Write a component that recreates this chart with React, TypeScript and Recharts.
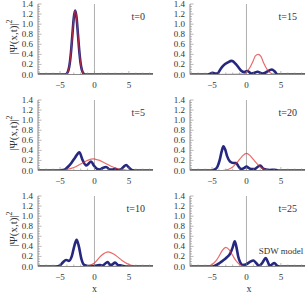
import React from "react";
import { LineChart, Line, XAxis, YAxis, ReferenceLine } from "recharts";

const SERIF = '"Liberation Serif", "DejaVu Serif", serif';
const BLUE = "#26277f";
const RED = "#e22a2a";
const FRAME = "#8a8a8a";
const TEXT = "#333";

// tick labels
const xMajor = [-5, 0, 5];
const xMinor = [-8, -7, -6, -4, -3, -2, -1, 1, 2, 3, 4, 6, 7, 8];
const yMajor = [0, 0.2, 0.4, 0.6, 0.8, 1.0, 1.2, 1.4];
const yMinor = [
  0.05, 0.1, 0.15, 0.25, 0.3, 0.35, 0.45, 0.5, 0.55, 0.65, 0.7, 0.75, 0.85,
  0.9, 0.95, 1.05, 1.1, 1.15, 1.25, 1.3, 1.35,
];
const times = ["t=0", "t=5", "t=10", "t=15", "t=20", "t=25"];

// t = 0 (both curves sit on top of each other)
const blue0X = [-8.2, -4.2, -4.0, -3.8, -3.6, -3.4, -3.2, -3.0, -2.8, -2.6, -2.4, -2.2, -2.0, -1.8, -1.6, -1.4, 8.5];
const blue0Y = [0, 0, 0.02, 0.075, 0.21, 0.46, 0.8, 1.13, 1.27, 1.13, 0.8, 0.46, 0.21, 0.075, 0.02, 0, 0];
const red0X = [-8.2, -4.2, -4.0, -3.8, -3.6, -3.4, -3.2, -3.0, -2.8, -2.6, -2.4, -2.2, -2.0, -1.8, -1.6, -1.4, 8.5];
const red0Y = [0, 0, 0.02, 0.075, 0.21, 0.46, 0.8, 1.13, 1.27, 1.13, 0.8, 0.46, 0.21, 0.075, 0.02, 0, 0];

// t = 5
const blue5X = [-8.2, -5.2, -4.6, -4.2, -3.8, -3.3, -2.8, -2.2, -1.7, -1.2, -0.9, -0.5, -0.1, 0.4, 0.8, 1.2, 1.7, 2.2, 2.6, 3.0, 3.4, 3.8, 4.2, 4.6, 5.0, 5.4, 5.8, 8.5];
const blue5Y = [0, 0, 0.01, 0.03, 0.08, 0.16, 0.26, 0.36, 0.2, 0.1, 0.13, 0.18, 0.1, 0.03, 0.02, 0.05, 0.07, 0.02, 0.02, 0.035, 0.01, 0.02, 0.07, 0.11, 0.06, 0.01, 0, 0];
const red5X = [-8.2, -5, -4, -3, -2, -1, -0.2, 0.5, 1.5, 2.5, 3.5, 4.5, 5.5, 8.5];
const red5Y = [0, 0.005, 0.02, 0.06, 0.13, 0.2, 0.23, 0.21, 0.15, 0.08, 0.03, 0.01, 0, 0];

// t = 10
const blue10X = [-8.2, -5.6, -5.0, -4.6, -4.1, -3.7, -3.3, -2.9, -2.6, -2.3, -1.9, -1.5, -1.0, -0.3, 0.3, 0.8, 1.2, 1.5, 1.9, 2.3, 2.6, 3.0, 3.4, 3.9, 4.5, 8.5];
const blue10Y = [0, 0, 0.02, 0.08, 0.13, 0.11, 0.2, 0.42, 0.53, 0.42, 0.15, 0.03, 0.01, 0.01, 0.02, 0.03, 0.02, 0.05, 0.09, 0.03, 0.04, 0.08, 0.03, 0.02, 0, 0];
const red10X = [-8.2, -1.8, -1, 0, 1, 2, 3, 4, 5, 6, 7, 8.5];
const red10Y = [0, 0, 0.01, 0.07, 0.22, 0.29, 0.23, 0.12, 0.04, 0.01, 0, 0];

// t = 15
const blue15X = [-8.2, -5.6, -5.2, -4.9, -4.5, -4.2, -3.8, -3.4, -2.7, -2.15, -1.5, -1.1, -0.8, -0.3, 0.15, 0.7, 1.1, 1.6, 2.3, 2.8, 3.3, 3.7, 4.1, 4.5, 8.5];
const blue15Y = [0, 0, 0.02, 0.035, 0.02, 0.02, 0.1, 0.17, 0.24, 0.27, 0.2, 0.13, 0.08, 0.05, 0.07, 0.02, 0.03, 0.055, 0.02, 0.04, 0.08, 0.1, 0.06, 0, 0];
const red15X = [-8.2, -0.5, 0, 0.5, 1, 1.3, 1.7, 2.1, 2.5, 3, 3.5, 4, 4.5, 8.5];
const red15Y = [0, 0.01, 0.045, 0.14, 0.28, 0.37, 0.4, 0.36, 0.23, 0.1, 0.03, 0.006, 0, 0];

// t = 20
const blue20X = [-8.2, -5.2, -4.6, -4.2, -3.9, -3.6, -3.35, -3.1, -2.8, -2.4, -1.9, -1.5, -1.2, -0.8, -0.3, 0, 0.3, 0.7, 1.2, 1.6, 2.0, 2.4, 2.8, 3.4, 4.0, 4.6, 8.5];
const blue20Y = [0, 0, 0.02, 0.08, 0.2, 0.38, 0.48, 0.42, 0.28, 0.18, 0.15, 0.15, 0.09, 0.03, 0.05, 0.08, 0.05, 0.03, 0.03, 0.07, 0.1, 0.04, 0.02, 0.01, 0.015, 0, 0];
const red20X = [-8.2, -3.5, -3, -2.5, -2, -1.5, -1, -0.5, 0, 0.5, 1, 1.5, 2, 2.5, 3, 3.5, 8.5];
const red20Y = [0, 0, 0.01, 0.03, 0.07, 0.14, 0.22, 0.3, 0.34, 0.3, 0.22, 0.14, 0.07, 0.03, 0.01, 0, 0];

// t = 25
const blue25X = [-8.2, -5.0, -4.5, -3.9, -3.4, -2.95, -2.35, -2.0, -1.7, -1.45, -1.2, -0.9, -0.55, -0.1, 0.5, 1.0, 1.4, 1.8, 2.3, 2.8, 3.1, 3.4, 3.7, 4.05, 4.4, 4.8, 8.5];
const blue25Y = [0, 0, 0.02, 0.07, 0.12, 0.17, 0.26, 0.38, 0.5, 0.38, 0.2, 0.08, 0.03, 0.04, 0.09, 0.12, 0.07, 0.015, 0.07, 0.17, 0.09, 0.015, 0.04, 0.07, 0.02, 0, 0];
const red25X = [-8.2, -6, -5.5, -5, -4.5, -4, -3.5, -3, -2.5, -2, -1.5, -1, -0.5, 0, 8.5];
const red25Y = [0, 0, 0.01, 0.04, 0.1, 0.2, 0.32, 0.38, 0.33, 0.22, 0.11, 0.04, 0.01, 0, 0];

type Pt = { x: number; y: number };
const zip = (xs: number[], ys: number[]): Pt[] => xs.map((x, i) => ({ x, y: ys[i] }));

const colLeft = [38, 190];
const rowTop = [4, 99.5, 196];
const W = 115;
const H = 70.5;
const PAD_TOP = 8;

const panels = [
  { label: times[0], col: 0, row: 0, blue: zip(blue0X, blue0Y), red: zip(red0X, red0Y) },
  { label: times[1], col: 0, row: 1, blue: zip(blue5X, blue5Y), red: zip(red5X, red5Y) },
  { label: times[2], col: 0, row: 2, blue: zip(blue10X, blue10Y), red: zip(red10X, red10Y) },
  { label: times[3], col: 1, row: 0, blue: zip(blue15X, blue15Y), red: zip(red15X, red15Y) },
  { label: times[4], col: 1, row: 1, blue: zip(blue20X, blue20Y), red: zip(red20X, red20Y) },
  { label: times[5], col: 1, row: 2, blue: zip(blue25X, blue25Y), red: zip(red25X, red25Y) },
];

const xTicks = [...xMajor, ...xMinor].sort((a, b) => a - b);
const yTicks = [...yMajor, ...yMinor].sort((a, b) => a - b);
const isMajorY = (v: number) => Math.abs(v * 5 - Math.round(v * 5)) < 1e-6;
const fmtX = (v: number) => (v < 0 ? `\u2212${-v}` : `${v}`);

function BottomTick({ x, y, payload }: any) {
  const v = payload.value;
  const major = v % 5 === 0;
  return (
    <g>
      <line x1={x} x2={x} y1={y} y2={y - (major ? 3.5 : 2)} stroke={FRAME} strokeWidth={0.6} />
      {major && (
        <text x={x} y={y + 13} textAnchor="middle" fontSize={9} fontFamily={SERIF} fill={TEXT}>
          {fmtX(v)}
        </text>
      )}
    </g>
  );
}

function TopTick({ x, y, payload }: any) {
  const major = payload.value % 5 === 0;
  return <line x1={x} x2={x} y1={y} y2={y + (major ? 3.5 : 2)} stroke={FRAME} strokeWidth={0.6} />;
}

function LeftTick({ x, y, payload }: any) {
  const v = payload.value;
  const major = isMajorY(v);
  return (
    <g>
      <line x1={x} x2={x + (major ? 3.5 : 2)} y1={y} y2={y} stroke={FRAME} strokeWidth={0.6} />
      {major && (
        <text x={x - 5} y={y + 3} textAnchor="end" fontSize={9} fontFamily={SERIF} fill={TEXT}>
          {v.toFixed(1)}
        </text>
      )}
    </g>
  );
}

function RightTick({ x, y, payload }: any) {
  const major = isMajorY(payload.value);
  return <line x1={x} x2={x - (major ? 3.5 : 2)} y1={y} y2={y} stroke={FRAME} strokeWidth={0.6} />;
}

function Panel({ label, col, row, blue, red }: any) {
  const left = colLeft[col];
  const top = rowTop[row];
  return (
    <div style={{ position: "absolute", left: left - 38, top: top - PAD_TOP }}>
      <LineChart width={38 + W + 3} height={PAD_TOP + H + 20} margin={{ top: PAD_TOP, right: 3, bottom: 0, left: 0 }}>
        <XAxis
          xAxisId="b"
          dataKey="x"
          type="number"
          domain={[-8.2, 8.5]}
          allowDataOverflow
          ticks={xTicks}
          interval={0}
          height={20}
          tickSize={0}
          tickMargin={0}
          tickLine={false}
          stroke={FRAME}
          tick={(p: any) => <BottomTick {...p} />}
        />
        <XAxis
          xAxisId="t"
          orientation="top"
          dataKey="x"
          type="number"
          domain={[-8.2, 8.5]}
          allowDataOverflow
          ticks={xTicks}
          interval={0}
          height={0}
          tickSize={0}
          tickMargin={0}
          tickLine={false}
          stroke={FRAME}
          tick={(p: any) => <TopTick {...p} />}
        />
        <YAxis
          yAxisId="l"
          type="number"
          domain={[0, 1.4]}
          allowDataOverflow
          ticks={yTicks}
          interval={0}
          width={38}
          tickSize={0}
          tickMargin={0}
          tickLine={false}
          stroke={FRAME}
          tick={(p: any) => <LeftTick {...p} />}
        />
        <YAxis
          yAxisId="r"
          orientation="right"
          type="number"
          domain={[0, 1.4]}
          allowDataOverflow
          ticks={yTicks}
          interval={0}
          width={0}
          tickSize={0}
          tickMargin={0}
          tickLine={false}
          stroke={FRAME}
          tick={(p: any) => <RightTick {...p} />}
        />
        <ReferenceLine xAxisId="b" yAxisId="l" x={0} stroke="#9a9a9a" strokeWidth={0.8} />
        <Line
          xAxisId="b"
          yAxisId="l"
          data={blue}
          dataKey="y"
          type="monotone"
          stroke={BLUE}
          strokeWidth={2.6}
          dot={false}
          activeDot={false}
          isAnimationActive={false}
        />
        <Line
          xAxisId="b"
          yAxisId="l"
          data={red}
          dataKey="y"
          type="monotone"
          stroke={RED}
          strokeOpacity={0.7}
          strokeWidth={1.2}
          dot={false}
          activeDot={false}
          isAnimationActive={false}
        />
      </LineChart>
      <div
        style={{
          position: "absolute",
          left: 38 + W - 8,
          top: PAD_TOP + 12,
          transform: "translate(-100%, -50%)",
          fontFamily: SERIF,
          fontSize: 10,
          color: TEXT,
          whiteSpace: "nowrap",
        }}
      >
        {label}
      </div>
    </div>
  );
}

function YLabel({ top }: { top: number }) {
  return (
    <div
      style={{
        position: "absolute",
        left: 11,
        top,
        transform: "translate(-50%, -50%) rotate(-90deg)",
        fontFamily: SERIF,
        fontSize: 11,
        color: TEXT,
        whiteSpace: "nowrap",
        lineHeight: "11px",
      }}
    >
      |Ψ(x,t)|<sup style={{ fontSize: 8, verticalAlign: "5px" }}>2</sup>
    </div>
  );
}

const textStyle: React.CSSProperties = {
  position: "absolute",
  fontFamily: SERIF,
  fontSize: 10,
  color: TEXT,
  whiteSpace: "nowrap",
  transform: "translate(-50%, -50%)",
};

export default function App() {
  return (
    <div style={{ position: "absolute", left: 0, top: 0, width: 308, height: 294, background: "#fff", overflow: "hidden" }}>
      {panels.map((p) => (
        <Panel key={p.label} {...p} />
      ))}
      {rowTop.map((t) => (
        <YLabel key={t} top={t + 33} />
      ))}
      <div style={{ ...textStyle, left: 94.5, top: 288 }}>x</div>
      <div style={{ ...textStyle, left: 249, top: 288 }}>x</div>
      <div style={{ ...textStyle, fontSize: 9, left: 281, top: 251 }}>SDW model</div>
    </div>
  );
}
